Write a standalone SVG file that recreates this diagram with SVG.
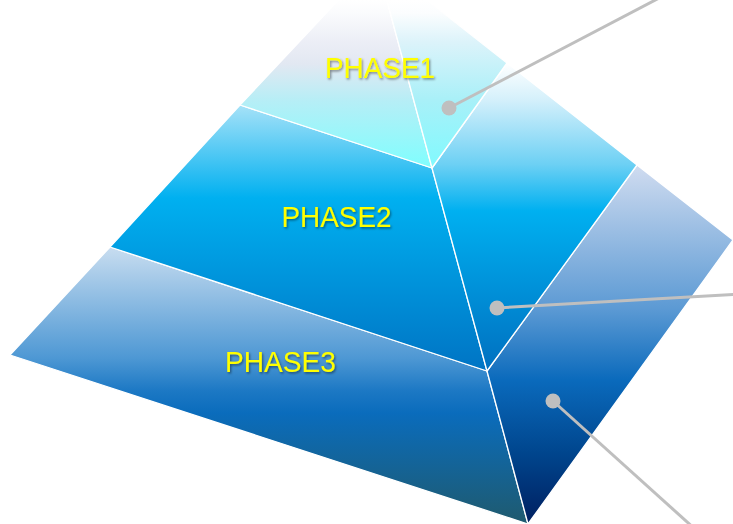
<svg xmlns="http://www.w3.org/2000/svg" width="733" height="524" viewBox="0 0 733 524">
  <defs>
    <linearGradient id="g1f" gradientUnits="userSpaceOnUse" x1="0" y1="0" x2="0" y2="168">
      <stop offset="0" stop-color="#ffffff"/>
      <stop offset="0.08" stop-color="#fafbfd"/>
      <stop offset="0.25" stop-color="#eceef6"/>
      <stop offset="0.38" stop-color="#e2e8f2"/>
      <stop offset="0.6" stop-color="#b6eef6"/>
      <stop offset="1" stop-color="#7ffefe"/>
    </linearGradient>
    <linearGradient id="g1r" gradientUnits="userSpaceOnUse" x1="0" y1="0" x2="0" y2="168">
      <stop offset="0" stop-color="#ffffff"/>
      <stop offset="0.08" stop-color="#fbfdfe"/>
      <stop offset="0.25" stop-color="#dcf3fa"/>
      <stop offset="0.6" stop-color="#a8f0f8"/>
      <stop offset="1" stop-color="#80fafe"/>
    </linearGradient>
    <linearGradient id="g2f" gradientUnits="userSpaceOnUse" x1="0" y1="105" x2="0" y2="371">
      <stop offset="0" stop-color="#a6e2f8"/>
      <stop offset="0.35" stop-color="#00b0f0"/>
      <stop offset="1" stop-color="#0074c4"/>
    </linearGradient>
    <linearGradient id="g2r" gradientUnits="userSpaceOnUse" x1="0" y1="63" x2="0" y2="371">
      <stop offset="0" stop-color="#ffffff"/>
      <stop offset="0.12" stop-color="#d4f0fb"/>
      <stop offset="0.33" stop-color="#6cd0f4"/>
      <stop offset="0.48" stop-color="#00b0f0"/>
      <stop offset="1" stop-color="#0070c0"/>
    </linearGradient>
    <linearGradient id="g3f" gradientUnits="userSpaceOnUse" x1="0" y1="247" x2="0" y2="524">
      <stop offset="0" stop-color="#c8ddf0"/>
      <stop offset="0.4" stop-color="#4e98d4"/>
      <stop offset="0.52" stop-color="#1c78c4"/>
      <stop offset="0.6" stop-color="#0a6cbc"/>
      <stop offset="1" stop-color="#1f5a6e"/>
    </linearGradient>
    <linearGradient id="g3r" gradientUnits="userSpaceOnUse" x1="0" y1="165" x2="0" y2="524">
      <stop offset="0" stop-color="#d0dcf0"/>
      <stop offset="0.4" stop-color="#5c9ad4"/>
      <stop offset="0.6" stop-color="#0a6abc"/>
      <stop offset="0.8" stop-color="#00468e"/>
      <stop offset="1" stop-color="#001f60"/>
    </linearGradient>
    <filter id="sh" x="-10%" y="-20%" width="120%" height="150%">
      <feDropShadow dx="1.2" dy="1.5" stdDeviation="0.8" flood-color="#000000" flood-opacity="0.45"/>
    </filter>
  </defs>
  <style>
    .face { stroke: #ffffff; stroke-width: 1.3; stroke-linejoin: round; }
    .lbl { font-family: "Liberation Sans", Arial, sans-serif; font-size: 29px; fill: #ffff00; text-anchor: middle; filter: url(#sh); }
    .conn { stroke: #bfbfbf; stroke-width: 3; fill: none; }
    .dot { fill: #bfbfbf; }
  </style>

  <g id="phase3">
    <polygon class="face" fill="url(#g3f)" points="110,247 487,371 528,524 10,355"/>
    <polygon class="face" fill="url(#g3r)" points="487,371 637,165 733,240 528,524"/>
    <text class="lbl" x="280.5" y="372" textLength="111" lengthAdjust="spacingAndGlyphs">PHASE3</text>
  </g>

  <g id="phase2">
    <polygon class="face" fill="url(#g2f)" points="240,105 432,168 487,371 110,247"/>
    <polygon class="face" fill="url(#g2r)" points="432,168 507,63 637,165 487,371"/>
    <text class="lbl" x="336.5" y="227" textLength="110" lengthAdjust="spacingAndGlyphs">PHASE2</text>
  </g>

  <g id="phase1">
    <polygon class="face" fill="url(#g1f)" points="376,-40 432,168 240,105"/>
    <polygon class="face" fill="url(#g1r)" points="376,-40 507,63 432,168"/>
    <text class="lbl" x="380" y="78" textLength="110" lengthAdjust="spacingAndGlyphs">PHASE1</text>
  </g>

  <g id="connectors">
    <line class="conn" x1="449" y1="108" x2="705" y2="-26"/>
    <circle class="dot" cx="449" cy="108" r="7.5"/>
    <line class="conn" x1="497" y1="308" x2="740" y2="294"/>
    <circle class="dot" cx="497" cy="308" r="7.5"/>
    <line class="conn" x1="553" y1="401" x2="696" y2="530"/>
    <circle class="dot" cx="553" cy="401" r="7.5"/>
  </g>
</svg>
